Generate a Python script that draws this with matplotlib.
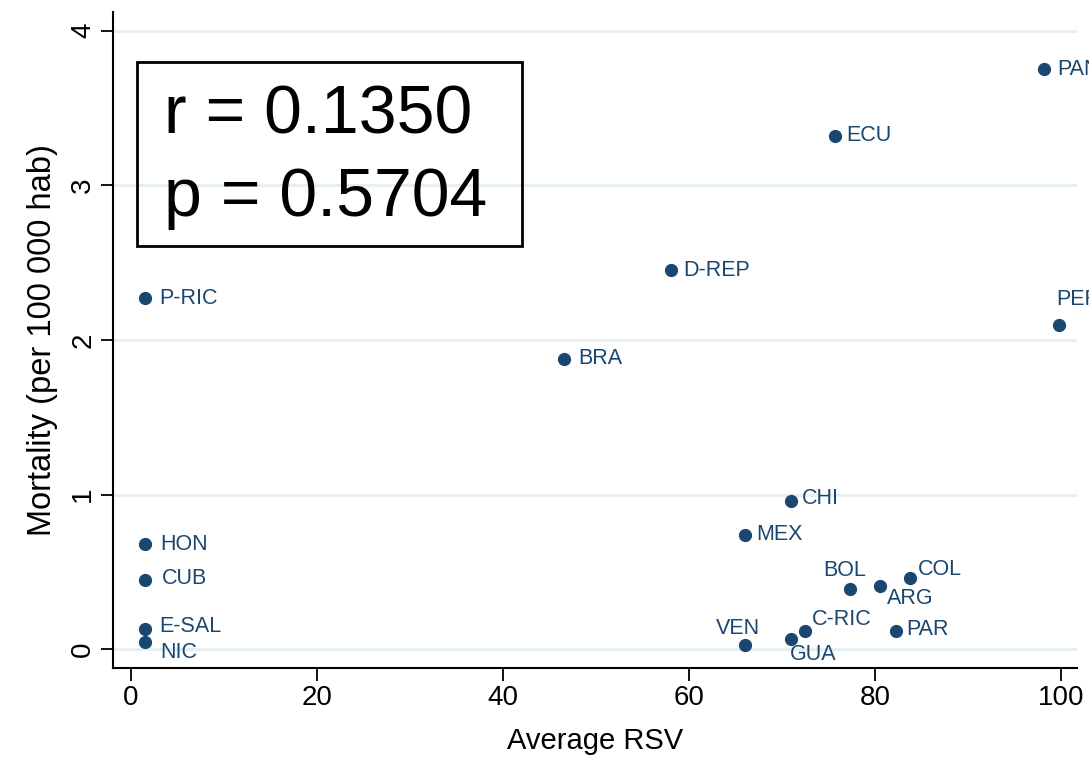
import matplotlib
matplotlib.use("Agg")
import matplotlib.pyplot as plt
from matplotlib.patches import Rectangle

plt.rcParams['font.family'] = ['Liberation Sans', 'DejaVu Sans']

countries = ["PAN", "ECU", "D-REP", "P-RIC", "PER", "BRA", "CHI", "HON", "MEX", "CUB",
             "BOL", "ARG", "COL", "E-SAL", "NIC", "VEN", "GUA", "C-RIC", "PAR"]
avg_rsv = [98.2, 75.7, 58.0, 1.5, 99.8, 46.5, 70.9, 1.5, 66.0, 1.5,
           77.3, 80.5, 83.7, 1.5, 1.5, 66.0, 70.9, 72.5, 82.2]
mortality = [3.75, 3.32, 2.45, 2.27, 2.10, 1.88, 0.96, 0.68, 0.74, 0.45,
             0.39, 0.41, 0.46, 0.13, 0.05, 0.03, 0.07, 0.12, 0.12]
x_ticks = [0, 20, 40, 60, 80, 100]
y_ticks = [0, 1, 2, 3, 4]
stats_text = ["r = 0.1350", "p = 0.5704"]

# label offsets in pixels (dx, dy, ha)
label_pos = {
    "PAN": (13, 0, 'left'), "ECU": (11, 0, 'left'), "D-REP": (13, 0, 'left'),
    "P-RIC": (14, 0, 'left'), "PER": (-3, 25, 'left'), "BRA": (15, 0, 'left'),
    "CHI": (11, 2, 'left'), "HON": (15, 0, 'left'), "MEX": (11, 0, 'left'),
    "CUB": (17, 1, 'left'), "BOL": (-5, 19, 'center'), "ARG": (7, -13, 'left'),
    "COL": (8, 9, 'left'), "E-SAL": (14, 3, 'left'), "NIC": (15, -11, 'left'),
    "VEN": (-7, 16, 'center'), "GUA": (-1, -16, 'left'), "C-RIC": (6, 11, 'left'),
    "PAR": (11, 1, 'left'),
}

navy = '#1a476f'
W, H = 1089, 757
fig = plt.figure(figsize=(W / 100, H / 100), dpi=100)
fig.patch.set_facecolor('white')
ax = fig.add_axes([113 / W, 1 - 668 / H, (1077 - 113) / W, (668 - 12) / H])

ax.set_xlim(-1.94, 101.7)
ax.set_ylim(-0.12, 4.12)
for yv in y_ticks:
    ax.axhline(yv, color='#e6eff1', lw=2.2, zorder=0)

ax.plot(avg_rsv, mortality, 'o', color=navy, markersize=8.5, zorder=3, clip_on=False)
for name, xv, yv in zip(countries, avg_rsv, mortality):
    dx, dy, ha = label_pos[name]
    ax.annotate(name, (xv, yv), xytext=(dx, dy), textcoords='offset pixels',
                ha=ha, va='center', fontsize=15.5, color=navy, annotation_clip=False)

ax.set_xticks(x_ticks)
ax.set_yticks(y_ticks)
ax.tick_params(axis='x', labelsize=20, length=9, width=1.3, pad=3)
ax.tick_params(axis='y', labelsize=20, length=9, width=1.3, pad=3, labelrotation=90)
for lbl in ax.get_yticklabels():
    lbl.set_va('center')
ax.spines['top'].set_visible(False)
ax.spines['right'].set_visible(False)
ax.spines['left'].set_linewidth(1.5)
ax.spines['bottom'].set_linewidth(1.5)
ax.set_xlabel("Average RSV", fontsize=21, labelpad=12)
ax.set_ylabel("Mortality (per 100 000 hab)", fontsize=23.5, labelpad=9)

# statistics box (figure pixel coordinates)
box = Rectangle((137 / W, 1 - 246 / H), (522 - 137) / W, (246 - 62) / H,
                transform=fig.transFigure, fill=False, edgecolor='black', lw=2)
fig.patches.append(box)
fig.text(164 / W, 1 - 115 / H, stats_text[0], fontsize=49, va='center', ha='left')
fig.text(164 / W, 1 - 198 / H, stats_text[1], fontsize=49, va='center', ha='left')

fig.savefig("out.png", dpi=100)
